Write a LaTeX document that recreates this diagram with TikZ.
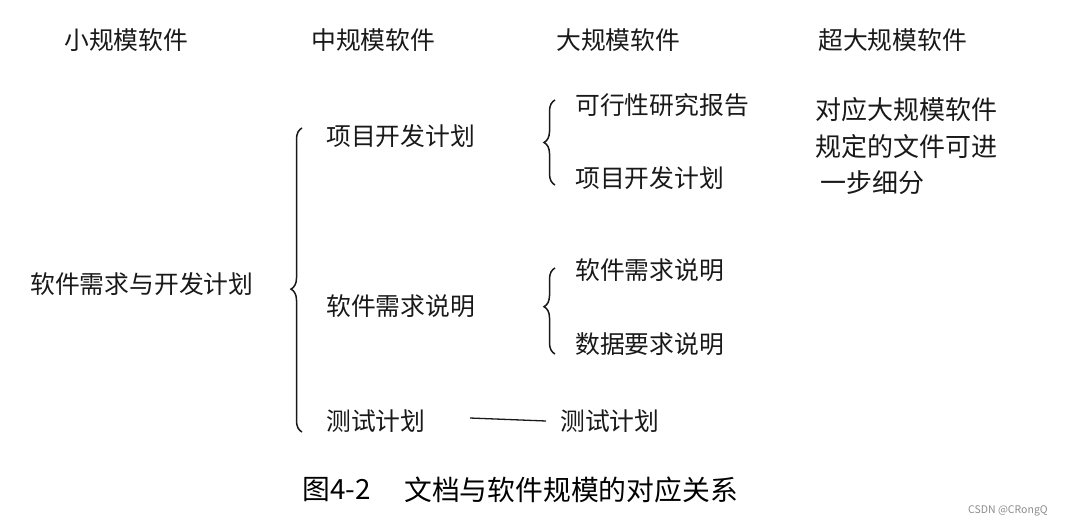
\documentclass[tikz,border=0pt]{standalone}
\usepackage{fontspec}
\setmainfont{Noto Sans CJK SC}
\usetikzlibrary{decorations.pathreplacing}
\begin{document}
\begin{tikzpicture}[x=1pt,y=-1pt,
  txt/.style={anchor=west,inner sep=0pt,font=\fontsize{24.8}{28}\selectfont,text=black!90},
  rtxt/.style={anchor=west,inner sep=0pt,font=\fontsize{26}{30}\selectfont,text=black!90},
  captxt/.style={anchor=west,inner sep=0pt,font=\fontsize{27.8}{32}\selectfont,text=black},
  brc/.style={draw=black!90,line width=1.5pt,decorate,decoration={brace,amplitude=11pt,aspect=#1}},
  conn/.style={draw=black!90,line width=1.3pt}]
\useasboundingbox (0,0) rectangle (1065,527);
% headers
\node[txt] (h1) at (64,40) {小规模软件};
\node[txt] (h2) at (311,40) {中规模软件};
\node[txt] (h3) at (556,40) {大规模软件};
\node[txt] (h4) at (818,40) {超大规模软件};
% left
\node[txt] (s1) at (30,284) {软件需求与开发计划};
% middle
\node[txt] (m1) at (326,136) {项目开发计划};
\node[txt] (m2) at (326,306) {软件需求说明};
\node[txt] (m3) at (326,421) {测试计划};
% right
\node[txt] (l1) at (575,105) {可行性研究报告};
\node[txt] (l2) at (575,178) {项目开发计划};
\node[txt] (l3) at (575,270) {软件需求说明};
\node[txt] (l4) at (575,344) {数据要求说明};
\node[txt] (l5) at (560,421) {测试计划};
% extra large
\node[rtxt] (x1) at (815,110) {对应大规模软件};
\node[rtxt] (x2) at (815,147) {规定的文件可进};
\node[rtxt] (x3) at (820,183) {一步细分};
% braces
\coordinate (b1s) at (302,432);
\coordinate (b1e) at (302,128);
\draw[brc=0.47] (b1s) -- (b1e);
\coordinate (b2s) at (555,185);
\coordinate (b2e) at (555,100);
\draw[brc=0.5] (b2s) -- (b2e);
\coordinate (b3s) at (555,354);
\coordinate (b3e) at (555,268);
\draw[brc=0.55] (b3s) -- (b3e);
% line
\draw[conn] (470,418) -- ([xshift=-14pt]l5.west);
% caption
\node[captxt] (c1) at (302,490) {图4-2};
\node[captxt] (c2) at (404,490) {文档与软件规模的对应关系};
\node[anchor=west,inner sep=0pt,font=\fontsize{10.5}{12}\selectfont,text=black!45] (wm) at (968,511) {CSDN @CRongQ};
\end{tikzpicture}
\end{document}
